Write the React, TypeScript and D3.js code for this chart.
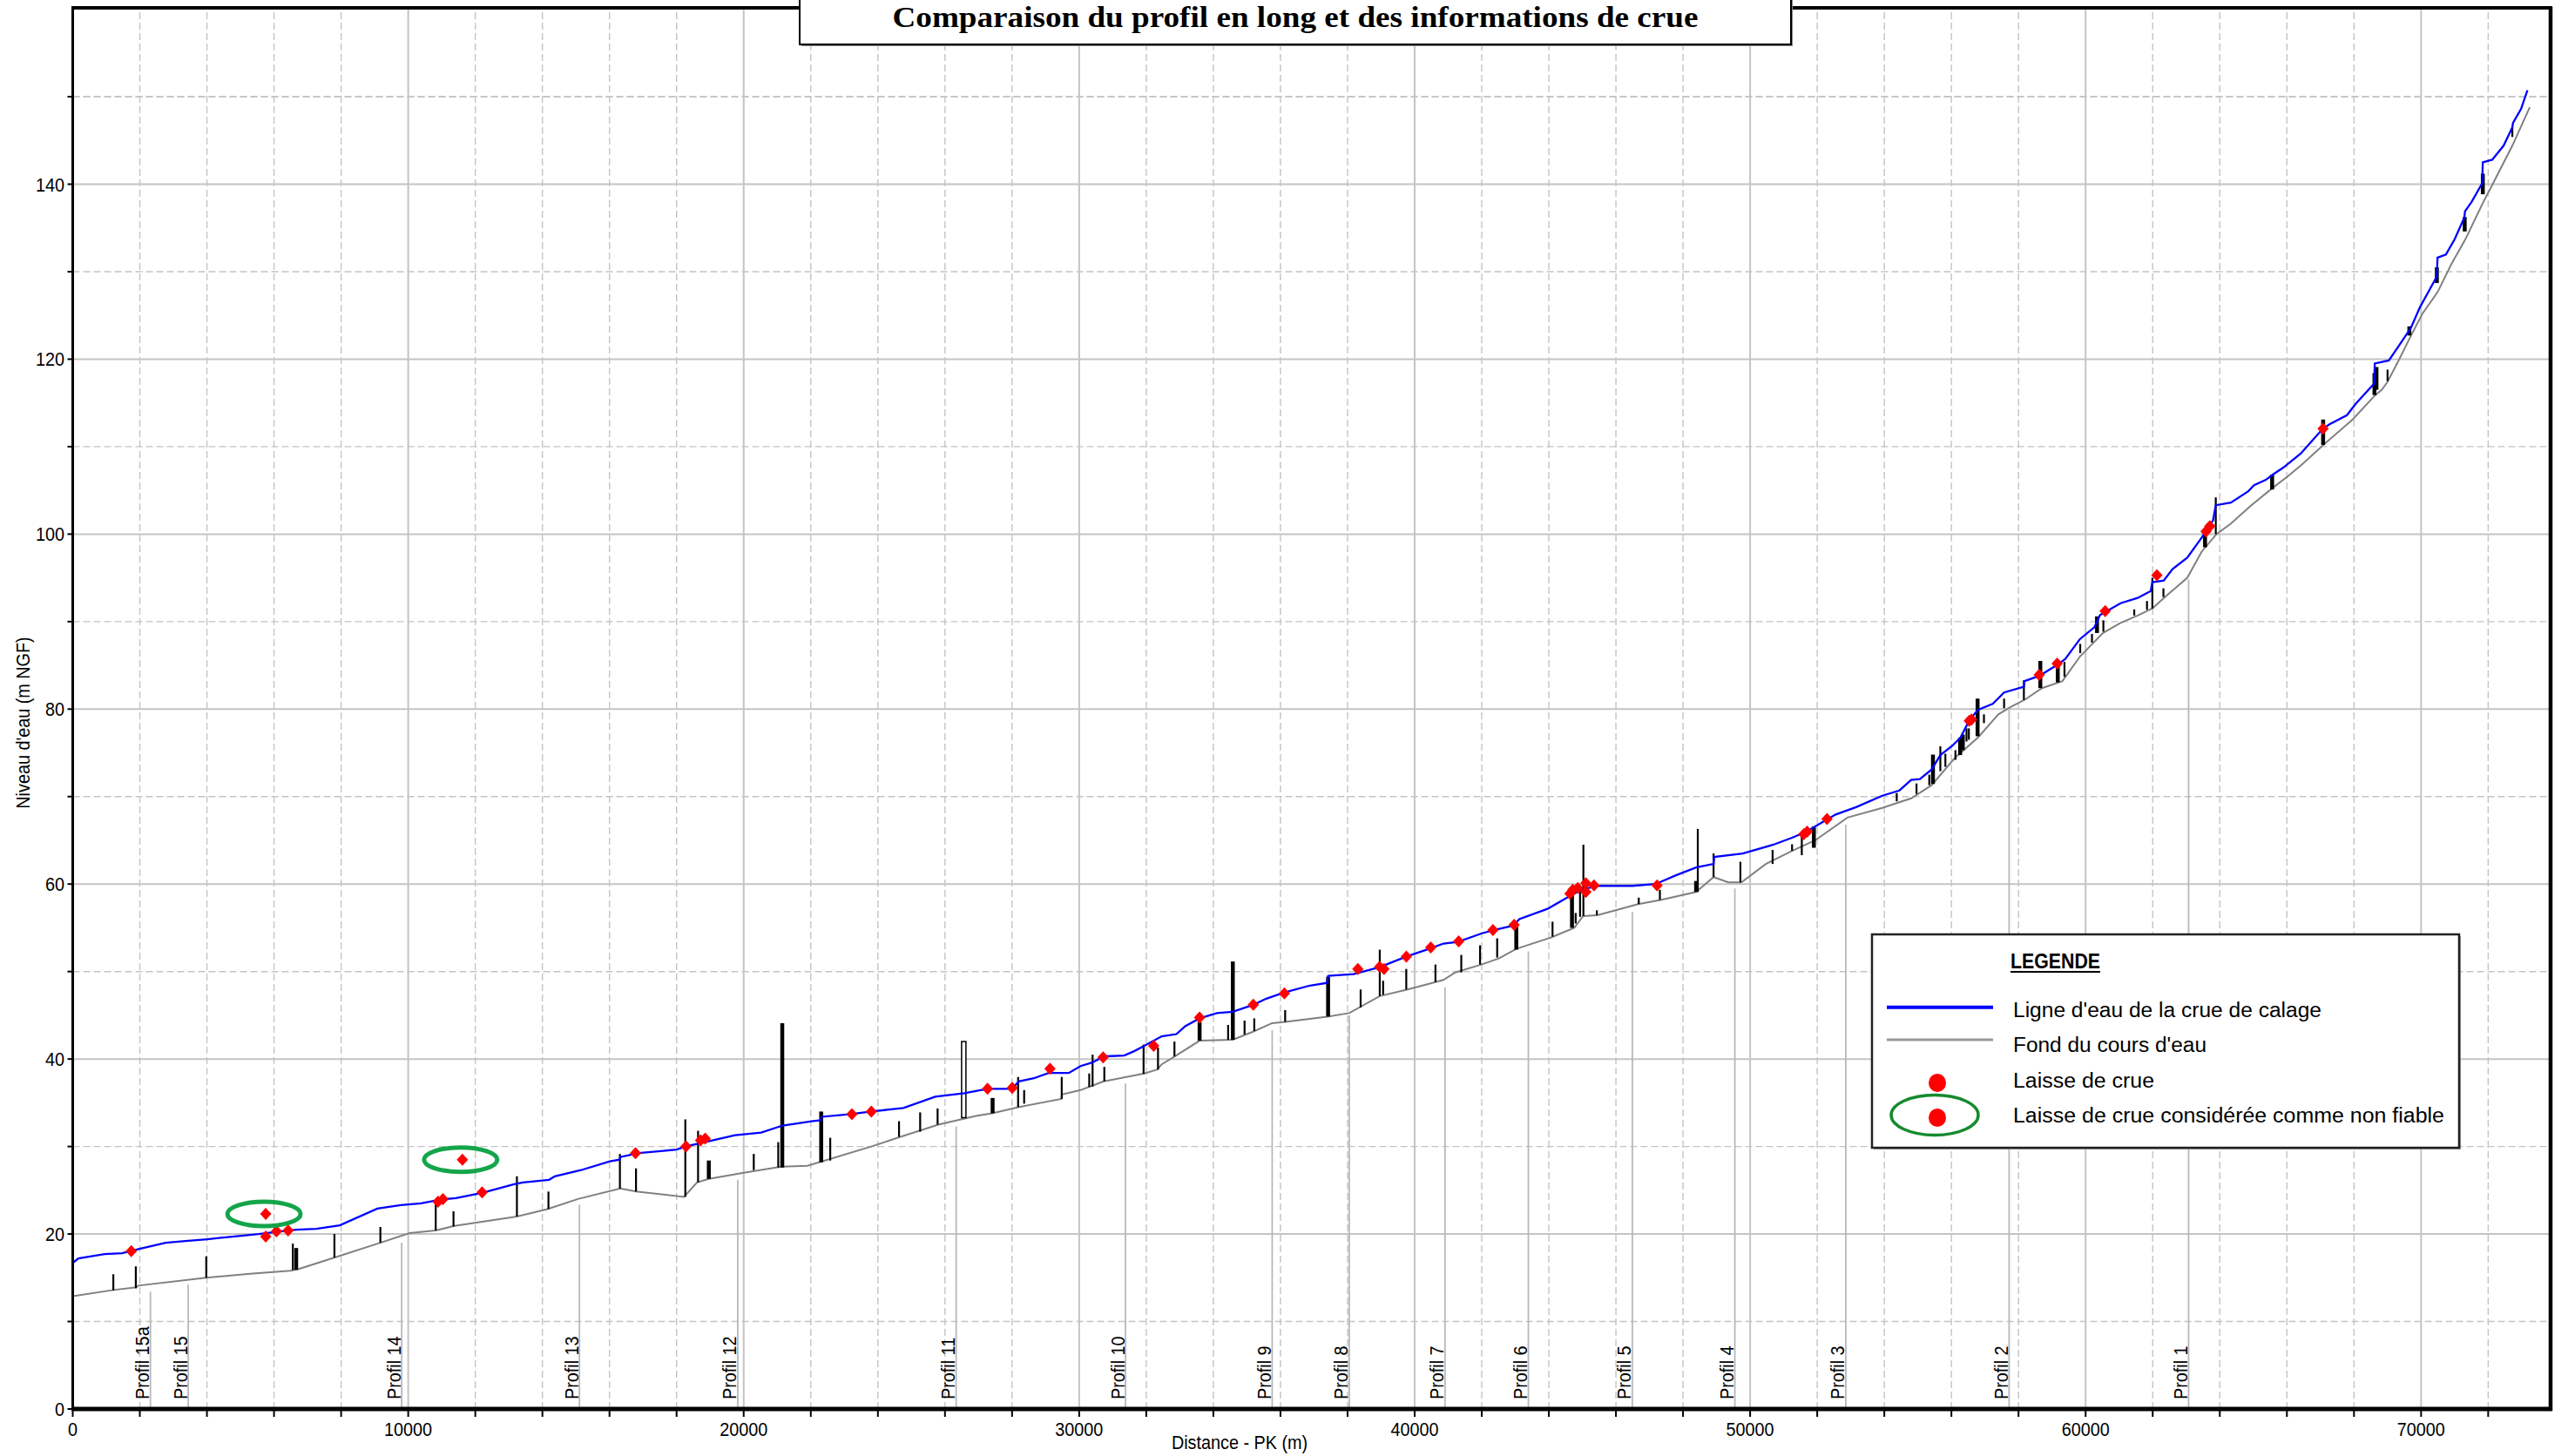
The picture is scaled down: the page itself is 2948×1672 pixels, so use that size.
import React from 'react';
import * as d3 from 'd3';

// ---------- DATA ----------
const chartTitle = 'Comparaison du profil en long et des informations de crue';
const xAxisTitle = 'Distance - PK (m)';
const yAxisTitle = "Niveau d'eau (m NGF)";

const xMajorTicks = [0, 10000, 20000, 30000, 40000, 50000, 60000, 70000];
const yMajorTicks = [0, 20, 40, 60, 80, 100, 120, 140];

// Ligne d'eau de la crue de calage [PK (m), cote (m NGF)]
const waterLine: [number, number][] = [
  [0, 16.7], [170, 17.2], [950, 17.7], [1470, 17.8], [1990, 18.3], [2770, 19.0], [3360, 19.2],
  [4010, 19.4], [4760, 19.7], [5540, 20.0], [5960, 20.2], [6660, 20.5], [7260, 20.6], [7960, 21.0],
  [9080, 22.9], [9780, 23.3], [10380, 23.5], [10990, 23.95], [11420, 24.1], [12200, 24.7],
  [13160, 25.7], [13420, 25.9], [14200, 26.2], [14370, 26.6], [15150, 27.3], [16010, 28.3],
  [16300, 28.5], [16320, 28.8], [16870, 29.25], [18000, 29.65], [18260, 30.0], [18950, 30.6],
  [19740, 31.3], [20520, 31.6], [21160, 32.4], [22070, 32.9], [22300, 33.0], [22330, 33.4],
  [23200, 33.7], [23800, 34.0], [24760, 34.4], [25710, 35.7], [26580, 36.1], [26920, 36.35],
  [27270, 36.6], [28000, 36.6], [28200, 37.45], [28650, 37.8], [29090, 38.4], [29690, 38.4],
  [30040, 39.2], [30390, 39.6], [30730, 40.3], [31340, 40.4], [31640, 40.9], [31940, 41.5],
  [32460, 42.6], [32900, 42.85], [33160, 43.75], [33590, 44.65], [34110, 45.25], [34580, 45.4],
  [35190, 46.2], [35580, 46.9], [36100, 47.6], [36880, 48.4], [37390, 48.7], [37420, 49.5],
  [38180, 49.7], [38960, 50.5], [39740, 51.7], [40430, 52.6], [40860, 53.2], [41290, 53.4],
  [41990, 54.35], [42330, 54.7], [42940, 55.25], [43120, 56.0], [43980, 57.2], [44500, 58.35],
  [44940, 59.3], [45450, 59.8], [46490, 59.8], [47180, 60.0], [47790, 61.0], [48390, 61.9],
  [48910, 62.3], [48930, 63.1], [49780, 63.5], [50730, 64.55], [51250, 65.3], [51680, 66.0],
  [51940, 66.6], [52550, 67.95], [53160, 68.8], [53940, 70.1], [54450, 70.7], [54800, 71.9],
  [55060, 72.0], [55410, 73.1], [55670, 74.75], [56010, 75.75], [56270, 76.75], [56530, 78.7],
  [56790, 79.9], [57230, 80.6], [57570, 81.9], [58160, 82.55], [58180, 83.2], [58620, 83.8],
  [59130, 85.0], [59390, 85.7], [59830, 88.0], [60260, 89.35], [60430, 90.75], [61040, 92.1],
  [61550, 92.7], [61940, 93.5], [61990, 94.5], [62330, 94.7], [62590, 96.0], [63030, 97.3],
  [63460, 99.6], [63800, 101.6], [63880, 103.3], [64330, 103.6], [64850, 104.9], [65020, 105.6],
  [65370, 106.2], [65580, 106.8], [65890, 107.6], [66410, 109.2], [67060, 112.0], [67270, 112.55],
  [67790, 113.6], [68050, 114.9], [68600, 117.2], [68620, 119.5], [69040, 119.85], [69350, 121.6],
  [69700, 123.6], [69960, 125.9], [70470, 129.45], [70490, 131.6], [70740, 131.95], [71000, 133.7],
  [71290, 136.2], [71310, 136.9], [71510, 138.0], [71820, 140.1], [71840, 142.5], [72120, 142.8],
  [72460, 144.4], [72720, 146.5], [72740, 147.0], [72980, 148.6], [73170, 150.75],
];

// Fond du cours d'eau [PK (m), cote (m NGF)]
const bedLine: [number, number][] = [
  [0, 12.9], [1210, 13.6], [1900, 13.9], [1950, 14.1], [3980, 15.0], [5280, 15.45], [6490, 15.8],
  [6740, 16.0], [7790, 17.3], [9170, 19.0], [10040, 20.1], [10820, 20.4], [11340, 20.9],
  [13240, 22.0], [14150, 22.85], [15060, 24.0], [16320, 25.2], [16790, 24.85], [18220, 24.25],
  [18610, 25.9], [18960, 26.3], [20000, 27.0], [21120, 27.7], [21900, 27.8], [22330, 28.3],
  [23800, 30.0], [24670, 31.1], [25800, 32.5], [26920, 33.5], [27400, 33.8], [28180, 34.5],
  [29470, 35.45], [29490, 35.95], [30040, 36.45], [30390, 36.95], [30730, 37.45], [31940, 38.35],
  [32330, 38.8], [32460, 39.4], [32850, 40.3], [33590, 42.1], [34580, 42.2], [35230, 43.2],
  [35750, 44.1], [36140, 44.25], [37400, 44.85], [38050, 45.25], [38960, 47.2], [39740, 47.9],
  [40430, 48.6], [40860, 49.05], [41210, 49.9], [41990, 50.8], [42510, 51.5], [43030, 52.6],
  [44070, 53.9], [44760, 55.0], [45020, 56.35], [45450, 56.45], [46660, 57.7], [47360, 58.2],
  [48390, 59.1], [48910, 60.8], [49350, 60.2], [49740, 60.2], [50470, 62.3], [51250, 63.8],
  [51940, 65.0], [52900, 67.6], [53940, 68.7], [54800, 69.8], [55410, 71.3], [56100, 74.4],
  [56790, 76.75], [57400, 79.4], [57740, 80.2], [58180, 81.05], [58700, 82.4], [59310, 83.2],
  [59830, 86.0], [60520, 88.7], [61040, 89.85], [61550, 90.7], [61990, 91.5], [62420, 93.0],
  [63030, 95.0], [63460, 98.0], [63900, 100.0], [64330, 101.2], [64940, 103.3], [65580, 105.3],
  [66060, 106.7], [66490, 108.1], [67100, 110.25], [67960, 113.1], [68610, 115.8], [68830, 116.5],
  [69000, 117.4], [69350, 120.0], [69700, 122.7], [70040, 125.2], [70490, 127.65], [70900, 130.85],
  [71320, 133.7], [71860, 138.0], [72120, 139.9], [72720, 144.4], [73240, 148.8],
];

// Ouvrages [PK (m), cote basse, cote haute, type]
const structures: [number, number, number, string][] = [
  [1210, 13.55, 15.4, 'thin'], [1880, 13.8, 16.3, 'thin'], [3980, 15.0, 17.45, 'thin'],
  [6560, 15.9, 18.9, 'thin'], [6660, 15.9, 18.4, 'thick'], [7800, 17.3, 20.0, 'thin'],
  [9170, 19.0, 20.8, 'thin'], [10820, 20.4, 24.0, 'thin'], [11350, 20.85, 22.6, 'thin'],
  [13240, 22.0, 26.6, 'thin'], [14180, 22.85, 24.85, 'thin'], [16310, 25.2, 29.15, 'thin'],
  [16790, 24.85, 27.5, 'thin'], [18260, 24.25, 33.1, 'thin'], [18640, 25.9, 31.8, 'thin'],
  [18960, 26.3, 28.4, 'thick'], [20300, 27.3, 29.15, 'thin'], [21030, 27.6, 30.5, 'thin'],
  [21150, 27.6, 44.1, 'thick'], [22310, 28.2, 34.0, 'thick'], [22580, 28.4, 31.0, 'thin'],
  [24630, 31.1, 32.9, 'thin'], [25260, 31.7, 33.9, 'thin'], [25780, 32.5, 34.35, 'thin'],
  [26560, 33.3, 42.0, 'open'], [27420, 33.8, 35.55, 'thick'], [28180, 34.5, 37.95, 'thin'],
  [28360, 34.9, 36.45, 'thin'], [29480, 35.45, 37.95, 'thin'], [30300, 36.8, 38.35, 'thin'],
  [30400, 36.85, 40.5, 'thin'], [30750, 37.45, 39.1, 'thin'], [31920, 38.3, 41.65, 'thin'],
  [32350, 38.8, 41.3, 'thin'], [32840, 40.3, 42.0, 'thin'], [33590, 42.1, 44.2, 'thick'],
  [34440, 42.2, 43.9, 'thin'], [34580, 42.2, 51.15, 'thick'], [34930, 42.8, 44.4, 'thin'],
  [35220, 43.2, 44.65, 'thin'], [36140, 44.25, 45.6, 'thin'], [37420, 44.85, 49.4, 'thick'],
  [38390, 45.9, 47.95, 'thin'], [38960, 47.2, 52.5, 'thin'], [39060, 47.35, 48.95, 'thin'],
  [39750, 47.95, 50.3, 'thin'], [40620, 48.8, 50.8, 'thin'], [41390, 49.9, 51.9, 'thin'],
  [41950, 50.8, 53.0, 'thin'], [42460, 51.6, 53.8, 'thin'], [43030, 52.5, 55.35, 'thick'],
  [44110, 54.0, 55.7, 'thin'], [44690, 55.0, 59.2, 'thick'], [44800, 55.5, 56.7, 'thin'],
  [44930, 56.25, 59.2, 'thin'], [45030, 56.35, 64.5, 'thin'], [45430, 56.45, 57.0, 'thin'],
  [46680, 57.7, 58.45, 'thin'], [47310, 58.2, 59.35, 'thin'], [48390, 59.1, 60.35, 'thick'],
  [48440, 59.1, 66.3, 'thin'], [48910, 60.8, 63.5, 'thin'], [49710, 60.2, 62.55, 'thin'],
  [50670, 62.3, 63.9, 'thin'], [51250, 63.8, 64.55, 'thin'], [51540, 63.3, 65.5, 'thin'],
  [51900, 64.15, 66.6, 'thick'], [54370, 69.45, 70.4, 'thin'], [54960, 70.3, 71.5, 'thin'],
  [55340, 71.3, 72.5, 'thin'], [55450, 71.45, 74.8, 'thick'], [55670, 72.9, 75.75, 'thin'],
  [55820, 73.4, 74.9, 'thin'], [56120, 74.2, 75.3, 'thin'], [56260, 74.75, 76.75, 'thick'],
  [56340, 75.3, 77.1, 'thick'], [56450, 76.3, 77.8, 'thin'], [56520, 76.5, 77.8, 'thin'],
  [56780, 76.9, 81.2, 'thick'], [56970, 78.4, 79.4, 'thin'], [57570, 80.1, 81.2, 'thin'],
  [58160, 81.05, 83.3, 'thin'], [58650, 82.4, 85.5, 'thick'], [59170, 83.05, 85.2, 'thick'],
  [59370, 83.7, 85.4, 'thin'], [59840, 86.4, 87.45, 'thin'], [60190, 87.6, 88.6, 'thin'],
  [60340, 88.7, 90.6, 'thick'], [60530, 88.85, 90.15, 'thin'], [61450, 90.7, 91.4, 'thin'],
  [61830, 91.35, 92.35, 'thin'], [61990, 91.5, 95.0, 'thin'], [62320, 92.8, 93.8, 'thin'],
  [63560, 98.5, 100.4, 'thick'], [63880, 100.0, 104.2, 'thin'], [65560, 105.1, 106.8, 'thick'],
  [67080, 110.2, 113.1, 'thick'], [68610, 115.9, 118.4, 'thick'], [68670, 116.5, 119.1, 'thick'],
  [69000, 117.5, 118.8, 'thin'], [69650, 122.7, 123.75, 'thick'], [70470, 128.7, 130.5, 'thick'],
  [71300, 134.6, 136.25, 'thick'], [71840, 138.85, 141.2, 'thick'], [72720, 145.4, 146.5, 'thin'],
];

// Laisses de crue [PK (m), cote (m NGF)]
const laisses: [number, number][] = [
  [1745, 18.05], [5753, 19.7], [6074, 20.3], [6420, 20.4], [10888, 23.7], [11035, 24.0],
  [12203, 24.75], [16775, 29.25], [18281, 30.0], [18714, 30.7], [18853, 30.9], [23225, 33.7],
  [23805, 34.0], [27268, 36.6], [28005, 36.7], [29130, 38.9], [30714, 40.2], [32221, 41.5],
  [33589, 44.75], [35190, 46.2], [36117, 47.5], [38307, 50.3], [38956, 50.55], [39086, 50.3],
  [39753, 51.7], [40480, 52.75], [41312, 53.45], [42333, 54.75], [42966, 55.35], [44628, 58.9],
  [44715, 59.35], [44862, 59.55], [45104, 60.1], [45104, 59.1], [45346, 59.85], [47226, 59.85],
  [51597, 65.7], [51701, 66.0], [52291, 67.45], [56532, 78.65], [56600, 78.8], [58615, 83.9],
  [59152, 85.2], [60584, 91.2], [62125, 95.3], [63589, 100.3], [63701, 100.9], [67078, 112.05],
];

// Laisses de crue considérées comme non fiables
const laissesNonFiables: [number, number][] = [
  [5753, 22.3], [11615, 28.5],
];

// Profils [nom, PK (m), cote haute du repère]
const profils: [string, number, number][] = [
  ['Profil 15a', 2316, 13.4], ['Profil 15', 3442, 14.2], ['Profil 14', 9805, 19.0],
  ['Profil 13', 15104, 23.35], ['Profil 12', 19823, 26.2], ['Profil 11', 26333, 32.3],
  ['Profil 10', 31381, 37.2], ['Profil 9', 35753, 43.3], ['Profil 8', 38050, 45.0],
  ['Profil 7', 40905, 48.2], ['Profil 6', 43390, 52.3], ['Profil 5', 46489, 56.8],
  ['Profil 4', 49545, 59.5], ['Profil 3', 52852, 66.8], ['Profil 2', 57720, 79.9],
  ['Profil 1', 63070, 94.8],
];

const legendTitle = 'LEGENDE';
const legendLabels = [
  "Ligne d'eau de la crue de calage",
  "Fond du cours d'eau",
  'Laisse de crue',
  'Laisse de crue considérée comme non fiable',
];

// ---------- HELPERS ----------
const SANS = '"Liberation Sans", Arial, sans-serif';
let _ctx: CanvasRenderingContext2D | null = null;
function textWidth(t: string, size: number, weight = 'normal') {
  if (!_ctx) _ctx = document.createElement('canvas').getContext('2d');
  if (!_ctx) return t.length * size * 0.5;
  _ctx.font = `${weight} ${size}px "Liberation Sans", Arial, sans-serif`;
  return _ctx.measureText(t).width;
}

const W = 2948;
const H = 1672;
const FS = 22;
const CONDENSE = 0.9;

export default function App() {
  const x = d3.scaleLinear().domain([0, 73860]).range([83.5, 2928]);
  const y = d3.scaleLinear().domain([0, 160]).range([1618, 10.6]);
  const [x0, x1] = x.range();
  const [y0, y1] = y.range();

  const xAllTicks = d3.range(0, 73860, 2000);
  const xMinor = xAllTicks.filter((v) => v % 10000 !== 0);
  const yAllTicks = d3.range(0, 160, 10);
  const yMinor = yAllTicks.filter((v) => v % 20 !== 0);

  const line = d3
    .line<[number, number]>()
    .x((d) => x(d[0]))
    .y((d) => y(d[1]));

  const diamond = (cx: number, cy: number) =>
    `M${cx},${cy - 7} L${cx + 6.5},${cy} L${cx},${cy + 7} L${cx - 6.5},${cy} Z`;

  const gridColor = '#c4c4c4';

  const cond = (t: string, size = FS, weight = 'normal') => textWidth(t, size, weight) * CONDENSE;

  const legX = 2149;
  const legY = 1073;
  const legW = 674;
  const legH = 245;
  const legTextX = 2311;
  const legBaselines = [1168, 1208, 1249, 1289];
  const legLengths = [354, 222, 162, 495];

  return (
    <svg
      width={W}
      height={H}
      viewBox={`0 0 ${W} ${H}`}
      style={{ position: 'absolute', left: 0, top: 0, display: 'block', background: '#fff' }}
      fontFamily={SANS}
    >
      <rect x={0} y={0} width={W} height={H} fill="#fff" />

      {/* grid */}
      <g>
        {xMinor.map((v) => (
          <line key={'gx' + v} x1={x(v)} x2={x(v)} y1={y0} y2={y1} stroke={gridColor} strokeWidth={1.4} strokeDasharray="8 4" />
        ))}
        {yMinor.map((v) => (
          <line key={'gy' + v} x1={x0} x2={x1} y1={y(v)} y2={y(v)} stroke={gridColor} strokeWidth={1.4} strokeDasharray="8 4" />
        ))}
        {xMajorTicks.filter((v) => v > 0).map((v) => (
          <line key={'GX' + v} x1={x(v)} x2={x(v)} y1={y0} y2={y1} stroke={gridColor} strokeWidth={2} />
        ))}
        {yMajorTicks.filter((v) => v > 0).map((v) => (
          <line key={'GY' + v} x1={x0} x2={x1} y1={y(v)} y2={y(v)} stroke={gridColor} strokeWidth={2} />
        ))}
        <line x1={x0} x2={x1} y1={y(150)} y2={y(150)} stroke={gridColor} strokeWidth={1.4} strokeDasharray="8 4" />
      </g>

      {/* profile reference lines */}
      <g>
        {profils.map(([name, m, top]) => (
          <line key={'pl' + name} x1={x(m)} x2={x(m)} y1={y0} y2={y(top)} stroke="#b8b8b8" strokeWidth={1.8} />
        ))}
      </g>

      {/* bed */}
      <path d={line(bedLine) || ''} fill="none" stroke="#808080" strokeWidth={2} />

      {/* structures */}
      <g>
        {structures.map(([m, lo, hi, kind], i) =>
          kind === 'open' ? (
            <rect key={'st' + i} x={x(m) - 2.5} y={y(hi)} width={5} height={y(lo) - y(hi)} fill="#fff" stroke="#000" strokeWidth={1.5} />
          ) : (
            <line key={'st' + i} x1={x(m)} x2={x(m)} y1={y(lo)} y2={y(hi)} stroke="#000" strokeWidth={kind === 'thick' ? 4.5 : 2.2} />
          )
        )}
      </g>

      {/* water line */}
      <path d={line(waterLine) || ''} fill="none" stroke="#0000ff" strokeWidth={2.3} />

      {/* laisses */}
      <g fill="#ff0000">
        {laisses.map(([m, z], i) => (
          <path key={'ls' + i} d={diamond(x(m), y(z))} />
        ))}
        {laissesNonFiables.map(([m, z], i) => (
          <path key={'lnf' + i} d={diamond(x(m), y(z))} />
        ))}
      </g>
      <g fill="none" stroke="#14a54b" strokeWidth={5}>
        {laissesNonFiables.map(([m, z], i) => (
          <ellipse key={'el' + i} cx={x(m) - 2} cy={y(z)} rx={42} ry={14} />
        ))}
      </g>

      {/* profile labels */}
      <g fontSize={FS} fill="#000">
        {profils.map(([name, m]) => (
          <text
            key={'pt' + name}
            transform={`translate(${x(m) - 1.5},1607) rotate(-90)`}
            textAnchor="start"
            textLength={cond(name)}
            lengthAdjust="spacingAndGlyphs"
          >
            {name}
          </text>
        ))}
      </g>

      {/* axes ticks */}
      <g stroke="#000" strokeWidth={2}>
        {xAllTicks.map((v) => (
          <line key={'tx' + v} x1={x(v)} x2={x(v)} y1={y0} y2={y0 + 9} />
        ))}
        {yAllTicks.map((v) => (
          <line key={'ty' + v} x1={x0 - 6} x2={x0} y1={y(v)} y2={y(v)} />
        ))}
      </g>
      <g fontSize={FS} fill="#000">
        {xMajorTicks.map((v) => (
          <text key={'lx' + v} x={x(v)} y={1649} textAnchor="middle" textLength={cond(String(v))} lengthAdjust="spacingAndGlyphs">
            {v}
          </text>
        ))}
        {yMajorTicks.map((v) => (
          <text key={'ly' + v} x={74} y={y(v) + 8} textAnchor="end" textLength={cond(String(v))} lengthAdjust="spacingAndGlyphs">
            {v}
          </text>
        ))}
        <text x={1423} y={1664} textAnchor="middle" textLength={cond(xAxisTitle)} lengthAdjust="spacingAndGlyphs">
          {xAxisTitle}
        </text>
        <text transform={`translate(34,830) rotate(-90)`} textAnchor="middle" textLength={cond(yAxisTitle)} lengthAdjust="spacingAndGlyphs">
          {yAxisTitle}
        </text>
      </g>

      {/* frame */}
      <g stroke="#000" fill="none">
        <line x1={x0 - 1.5} x2={x1 + 2} y1={9} y2={9} strokeWidth={4} />
        <line x1={x0} x2={x0} y1={8} y2={y0} strokeWidth={3} />
        <line x1={x1} x2={x1} y1={8} y2={y0 + 2} strokeWidth={4.5} />
        <line x1={x0 - 1.5} x2={x1 + 2} y1={y0} y2={y0} strokeWidth={5} />
      </g>

      {/* title box */}
      <rect x={920} y={-4} width={1138} height={57} fill="#808080" />
      <rect x={918} y={-6} width={1138} height={57} fill="#fff" stroke="#000" strokeWidth={2} />
      <text
        x={1487}
        y={31}
        textAnchor="middle"
        fontFamily='"Liberation Serif", "DejaVu Serif", serif'
        fontWeight="bold"
        fontSize={34}
        textLength={925}
        lengthAdjust="spacingAndGlyphs"
      >
        {chartTitle}
      </text>

      {/* legend */}
      <rect x={legX + 2} y={legY + 2} width={legW} height={legH} fill="#9a9a9a" />
      <rect x={legX} y={legY} width={legW} height={legH} fill="#fff" stroke="#222" strokeWidth={2.5} />
      <text x={2308} y={1112} fontSize={24} fontWeight="bold" textLength={103} lengthAdjust="spacingAndGlyphs">
        {legendTitle}
      </text>
      <line x1={2308} x2={2411} y1={1116} y2={1116} stroke="#000" strokeWidth={2} />
      <line x1={2166} x2={2288} y1={1156.7} y2={1156.7} stroke="#0000ff" strokeWidth={4} />
      <line x1={2166} x2={2288} y1={1194} y2={1194} stroke="#999" strokeWidth={3} />
      <ellipse cx={2224} cy={1243.5} rx={10} ry={10.5} fill="#ff0000" />
      <ellipse cx={2221} cy={1280.5} rx={50} ry={23} fill="none" stroke="#158a2e" strokeWidth={3.5} />
      <ellipse cx={2224} cy={1283.5} rx={10} ry={10.5} fill="#ff0000" />
      {legendLabels.map((t, i) => (
        <text key={'lg' + i} x={legTextX} y={legBaselines[i]} fontSize={23} textLength={legLengths[i]} lengthAdjust="spacingAndGlyphs">
          {t}
        </text>
      ))}
    </svg>
  );
}
